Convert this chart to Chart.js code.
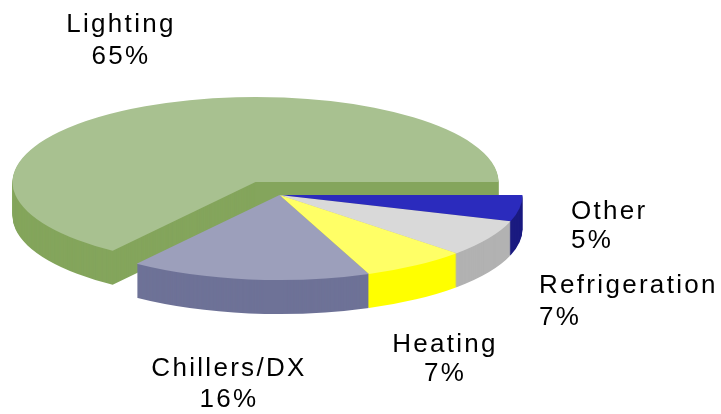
<!DOCTYPE html>
<html><head><meta charset="utf-8">
<style>html,body{margin:0;padding:0;background:#fff}canvas{display:block}</style>
<script src="https://cdn.jsdelivr.net/npm/chart.js@4"></script>
</head><body>
<div style="width:721px;height:414px"><canvas id="c" width="721" height="414"></canvas></div>
<script>
const categories = ['Other', 'Refrigeration', 'Heating', 'Chillers/DX', 'Lighting'];
const shares = [5, 7, 7, 16, 65];
const topColors = ['#2b2bbd', '#d9d9d9', '#ffff66', '#9c9fbb', '#a8c190'];
const wallColors = ['#1a1a80', '#b2b2b2', '#ffff00', '#6e7297', '#84a55c'];

const squash = 0.35, depth = 34;
const shiftX = [0, 0, 0, 0, -24];
const shiftY = [0, 0, 0, 0, -13];
const labelAnchors = [
  {x: 571, y: 219, gap: 29, align: 'left'},
  {x: 539, y: 293, gap: 32, align: 'left'},
  {x: 445, y: 352, gap: 29, align: 'center'},
  {x: 229, y: 376, gap: 31, align: 'center'},
  {x: 121, y: 32, gap: 32, align: 'center'}
];
const paintOrder = [4, 0, 1, 2, 3];

const pie3d = {
  id: 'pie3d',
  beforeDatasetsDraw(chart) {
    const ctx = chart.ctx, arcs = chart.getDatasetMeta(0).data;
    const paint = (arc, color, dx, dy) => {
      const o = arc.options;
      const p = Object.create(o);
      Object.defineProperty(p, 'backgroundColor', {value: color});
      arc.options = p;
      ctx.save();
      ctx.translate(arc.x + dx, arc.y + dy);
      ctx.scale(1, squash);
      ctx.translate(-arc.x, -arc.y);
      arc.draw(ctx);
      ctx.restore();
      arc.options = o;
    };
    for (const i of paintOrder) {
      const arc = arcs[i];
      for (let d = depth; d >= 1; d--) paint(arc, wallColors[i], shiftX[i], shiftY[i] + d);
      paint(arc, topColors[i], shiftX[i], shiftY[i]);
    }
    return false;
  },
  afterDraw(chart) {
    const ctx = chart.ctx;
    ctx.save();
    ctx.font = '26px "Liberation Sans"';
    ctx.letterSpacing = '2.3px';
    ctx.fillStyle = '#000';
    ctx.textBaseline = 'alphabetic';
    categories.forEach((name, i) => {
      const a = labelAnchors[i];
      ctx.textAlign = a.align;
      ctx.fillText(name, a.x, a.y);
      ctx.fillText(shares[i] + '%', a.x, a.y + a.gap);
    });
    ctx.restore();
  }
};

new Chart(document.getElementById('c'), {
  type: 'pie',
  data: {labels: categories, datasets: [{data: shares, backgroundColor: topColors, borderWidth: 0}]},
  options: {
    responsive: false,
    animation: false,
    rotation: 90,
    radius: 243,
    layout: {padding: {left: 0, right: 162, top: 0, bottom: 24}},
    plugins: {legend: {display: false}, tooltip: {enabled: false}}
  },
  plugins: [pie3d]
});
</script>
</body></html>
